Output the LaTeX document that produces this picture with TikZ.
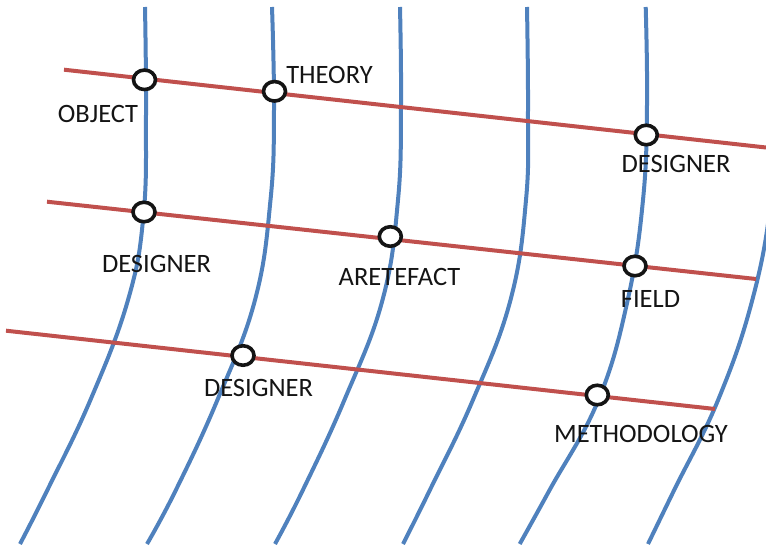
\documentclass[tikz,border=0pt]{standalone}
\usepackage{fontspec}
\setmainfont{Carlito}
\usetikzlibrary{shapes.geometric}
\definecolor{curveblue}{HTML}{4F81BD}
\definecolor{linered}{HTML}{C0504D}
\definecolor{inkblack}{HTML}{141414}
\begin{document}
\begin{tikzpicture}[x=1pt,y=-1pt,
  blueline/.style={draw=curveblue,line width=4pt},
  redline/.style={draw=linered,line width=4pt},
  ring/.style={ellipse,draw=inkblack,fill=white,line width=3.6pt,minimum width=22pt,minimum height=19.5pt,inner sep=0pt},
  lbl/.style={inner sep=0pt,text=inkblack,font=\fontsize{26.5}{30}\selectfont}]
\useasboundingbox (0,0) rectangle (766,548);
\clip (0,0) rectangle (766,548);
% blue curves
\draw[blueline] plot[smooth,tension=0.7] coordinates {(145,7) (146,115) (143.5,215) (128,300) (90.4,400) (47.4,490) (20,544)};
\draw[blueline] plot[smooth,tension=0.7] coordinates {(272,7) (274,110) (270.5,200) (255,300) (217.4,400) (175.9,490) (147,544)};
\draw[blueline] plot[smooth,tension=0.7] coordinates {(400,7) (401,105) (398,200) (382.5,300) (344.4,400) (302.9,490) (275,544)};
\draw[blueline] plot[smooth,tension=0.7] coordinates {(527,7) (528,110) (526,200) (510.5,300) (472.9,400) (429.9,490) (403,544)};
\draw[blueline] plot[smooth,tension=0.7] coordinates {(645.7,7) (647,105) (643,200) (627.7,300) (598.4,400) (549.6,490) (519.7,544)};
\draw[blueline] plot[smooth,tension=0.7] coordinates {(774,7) (775,105) (771,200) (752.3,300) (718.1,400) (674.2,490) (648,544)};
% red lines
\coordinate (r1a) at (64,69.7);
\coordinate (r1b) at (766,147.5);
\coordinate (r2a) at (47,201.7);
\coordinate (r2b) at (756,279);
\coordinate (r3a) at (6,330.7);
\coordinate (r3b) at (715,409);
\draw[redline] (r1a) -- (r1b);
\draw[redline] (r2a) -- (r2b);
\draw[redline] (r3a) -- (r3b);
% rings
\node[ring] (c1) at (144.5,79.8) {};
\node[ring] (c2) at (274.5,91.3) {};
\node[ring] (c3) at (646.3,135) {};
\node[ring] (c4) at (144,212) {};
\node[ring] (c5) at (390.3,236.5) {};
\node[ring] (c6) at (635,266) {};
\node[ring] (c7) at (243,355.5) {};
\node[ring] (c8) at (597.3,395) {};
% labels
\node[lbl] (l1) at (98,113.5) {OBJECT};
\node[lbl] (l2) at (329.5,74.5) {THEORY};
\node[lbl] (l3) at (676,163.5) {DESIGNER};
\node[lbl] (l4) at (156.5,263.5) {DESIGNER};
\node[lbl] (l5) at (399.5,276.5) {ARETEFACT};
\node[lbl] (l6) at (650.5,299) {FIELD};
\node[lbl] (l7) at (258.5,388) {DESIGNER};
\node[lbl] (l8) at (641,433.7) {METHODOLOGY};
\end{tikzpicture}
\end{document}
